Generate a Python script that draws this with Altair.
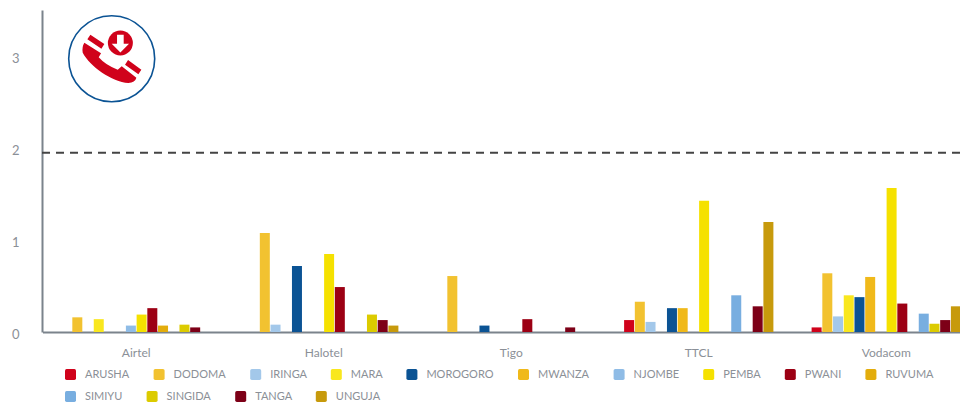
import altair as alt
import pandas as pd

operators = ["Airtel", "Halotel", "Tigo", "TTCL", "Vodacom"]
regions = ["ARUSHA", "DODOMA", "IRINGA", "MARA", "MOROGORO", "MWANZA", "NJOMBE",
           "PEMBA", "PWANI", "RUVUMA", "SIMIYU", "SINGIDA", "TANGA", "UNGUJA"]
colors = ["#d0021b", "#f2c230", "#a3c8ea", "#f9e71e", "#0b5394", "#f0b91a", "#8fbce6",
          "#f5e100", "#9c0014", "#e3ad0c", "#78aee0", "#dccb00", "#7d0017", "#c79a0c"]

airtel = [None, 0.16, None, 0.14, None, None, 0.07, 0.19, 0.26, 0.07, None, 0.08, 0.05, None]
halotel = [None, 1.08, 0.08, None, 0.72, None, None, 0.85, 0.49, None, None, 0.19, 0.13, 0.07]
tigo = [None, 0.61, None, None, 0.07, None, None, None, 0.14, None, None, None, 0.05, None]
ttcl = [0.13, 0.33, 0.11, None, 0.26, 0.26, None, 1.43, None, None, 0.40, None, 0.28, 1.20]
vodacom = [0.05, 0.64, 0.17, 0.40, 0.38, 0.60, None, 1.57, 0.31, None, 0.20, 0.09, 0.13, 0.28]
threshold = 1.955
y_ticks = [0, 1, 2, 3]

rows = []
for op, vals in zip(operators, [airtel, halotel, tigo, ttcl, vodacom]):
    for reg, v in zip(regions, vals):
        if v is not None:
            rows.append({"operator": op, "region": reg, "value": v})
df = pd.DataFrame(rows)

GREY = "#8b9097"
AXIS = "#7b838c"
FONT = "Lato"
ROUNDED = "M-1,-0.7 Q-1,-1 -0.7,-1 L0.7,-1 Q1,-1 1,-0.7 L1,0.7 Q1,1 0.7,1 L-0.7,1 Q-1,1 -1,0.7 Z"

x_enc = alt.X("operator:N", sort=operators,
              scale=alt.Scale(domain=operators, range=[0.5, 938], round=False,
                              paddingInner=0.2, paddingOuter=0.1),
              axis=alt.Axis(title=None, ticks=False, grid=False, labelAngle=0, labelPadding=15,
                            labelFont=FONT, labelFontSize=12, labelColor=GREY,
                            domainColor=AXIS, domainWidth=2))
xoff_enc = alt.XOffset("region:N", sort=regions, scale=alt.Scale(domain=regions, padding=0))
y_enc = alt.Y("value:Q", scale=alt.Scale(domain=[0, 3.51], nice=False),
              axis=alt.Axis(title=None, values=y_ticks, ticks=False, grid=False, labelPadding=23,
                            labelOffset=2, labelFlush=False, labelFont=FONT, labelFontSize=13,
                            labelColor=GREY, domainColor=AXIS, domainWidth=2, format="d"))


def bar_row(names, cols, legend_y):
    return alt.Chart(df[df["region"].isin(names)]).mark_bar(size=10).encode(
        x=x_enc, xOffset=xoff_enc, y=y_enc,
        color=alt.Color("region:N", sort=names,
                        scale=alt.Scale(domain=names, range=cols),
                        legend=alt.Legend(
                            title=None, orient="none", legendX=23, legendY=legend_y,
                            columns=len(names), direction="horizontal",
                            columnPadding=23.6,
                            labelFont=FONT, labelFontSize=11, labelColor=GREY, labelOffset=9,
                            symbolSize=121, symbolStrokeWidth=0, symbolType=ROUNDED)),
    )


bars_a = bar_row(regions[:10], colors[:10], 359)
bars_b = bar_row(regions[10:], colors[10:], 381)

rule = alt.Chart(pd.DataFrame({"y": [threshold]})).mark_rule(
    color="#444444", strokeWidth=2, strokeDash=[8, 6]
).encode(y="y:Q")


# Icon outline, measured in pixels of the 94 px wide reference crop
def shape(polys):
    out = []
    for cmds in polys:
        for c, *pts in cmds:
            coords = " ".join(f"{(px - 140) / 129:.3f},{(py - 140) / 129:.3f}" for px, py in pts)
            out.append(f"{c}{coords}")
        out.append("Z")
    return " ".join(out)


handset = [[("M", (58, 92)), ("L", (108, 124)), ("L", (101, 136)),
            ("Q", (122, 160), (158, 173)), ("L", (170, 163)), ("L", (214, 197)),
            ("Q", (210, 212), (190, 213)), ("C", (140, 208), (76, 165), (53, 122)),
            ("Q", (50, 105), (58, 92))],
           [("M", (76, 68)), ("L", (118, 96)), ("L", (109, 110)), ("L", (67, 82))],
           [("M", (189, 144)), ("L", (229, 173)), ("L", (220, 187)), ("L", (180, 158))]]
arrow = [[("M", (156, 68)), ("L", (176, 68)), ("L", (176, 95)), ("L", (192, 95)),
          ("L", (166, 121)), ("L", (140, 95)), ("L", (156, 95))]]

icon_data = alt.Data(values=[{"k": 1}])
ix, iy, isize = 69.7, 48.7, 86 ** 2


def icon(**kw):
    return alt.Chart(icon_data).mark_point(**kw).encode(x=alt.value(ix), y=alt.value(iy))


ring = icon(shape="circle", filled=True, fill="white", stroke="#0b5394", strokeWidth=1.6,
            size=isize, opacity=1)
phone = icon(shape=shape(handset), filled=True, fill="#d0021b", strokeWidth=0, size=isize, opacity=1)
dot = alt.Chart(icon_data).mark_point(shape="circle", filled=True, fill="#d0021b", strokeWidth=0,
                                      size=25 ** 2, opacity=1).encode(
    x=alt.value(ix + (166 - 140) / 3), y=alt.value(iy + (93 - 140) / 3))
down = icon(shape=shape(arrow), filled=True, fill="white", strokeWidth=0, size=isize, opacity=1)

chart = alt.layer(bars_a, bars_b, rule, ring, phone, dot, down).resolve_scale(
    color="independent"
).properties(
    width=918, height=322,
    autosize=alt.AutoSizeParams(type="none"),
    padding={"left": 34, "top": 2, "right": 0, "bottom": 71},
).configure_view(stroke=None)

chart.save("out.html", embed_options={"renderer": "svg", "actions": False})
